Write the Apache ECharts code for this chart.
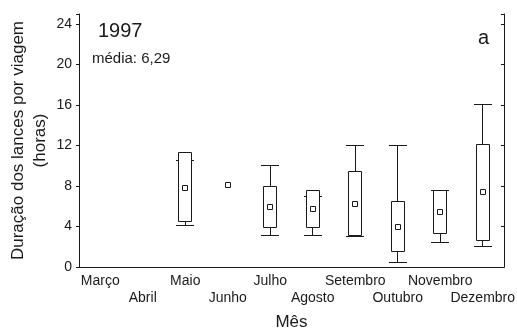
<!DOCTYPE html>
<html>
<head>
<meta charset="utf-8">
<script src="https://cdn.jsdelivr.net/npm/echarts@6/dist/echarts.min.js"></script>
<style>
html,body{margin:0;padding:0;background:#fff;}
#chart{width:517px;height:330px;}
</style>
</head>
<body>
<div id="chart"></div>
<script>
const categories = ['Março','Abril','Maio','Junho','Julho','Agosto','Setembro','Outubro','Novembro','Dezembro'];
const meanValues  = [null, null, 7.8,  8.07, 5.92, 5.75, 6.22, 3.97, 5.39, 7.37];
const boxLow      = [null, null, 4.53, null, 3.94, 3.94, 3.11, 1.52, 3.27, 2.65];
const boxHigh     = [null, null, 11.28,null, 7.97, 7.54, 9.39, 6.45, 7.54, 12.13];
const whiskerLow  = [null, null, 4.07, null, 3.08, 3.08, 3.04, 0.43, 2.41, 2.01];
const whiskerHigh = [null, null, 10.55,null, 10.02,7.0,  12.03,12.03,7.54, 16.04];
const yTicks = [0, 4, 8, 12, 16, 20, 24];

const FONT = 'Liberation Sans, Arial, sans-serif';
const INK = '#1a1a1a';

const rows = [];
categories.forEach((c, i) => {
  if (meanValues[i] == null) return;
  const f = v => (v == null ? '-' : v);
  rows.push([i, meanValues[i], f(boxLow[i]), f(boxHigh[i]), f(whiskerLow[i]), f(whiskerHigh[i])]);
});

function crisp(v) { return Math.round(v - 0.5) + 0.5; }

function renderItem(params, api) {
  const idx = api.value(0);
  const mean = api.value(1);
  const bLow = api.value(2), bHigh = api.value(3);
  const wLow = api.value(4), wHigh = api.value(5);
  const band = api.size([1, 0])[0];
  const cx = api.coord([idx, mean])[0];
  const children = [];
  const stroke = { stroke: INK, lineWidth: 1, fill: null };
  if (!isNaN(wLow) && !isNaN(wHigh)) {
    const yT = crisp(api.coord([idx, wHigh])[1]);
    const yB = crisp(api.coord([idx, wLow])[1]);
    const capHalf = band * 0.21;
    const x = crisp(cx);
    children.push({ type: 'line', shape: { x1: x, y1: yT, x2: x, y2: yB }, style: stroke });
    children.push({ type: 'line', shape: { x1: Math.round(cx - capHalf), y1: yT, x2: Math.round(cx + capHalf), y2: yT }, style: stroke });
    children.push({ type: 'line', shape: { x1: Math.round(cx - capHalf), y1: yB, x2: Math.round(cx + capHalf), y2: yB }, style: stroke });
  }
  if (!isNaN(bLow) && !isNaN(bHigh)) {
    const yT = crisp(api.coord([idx, bHigh])[1]);
    const yB = crisp(api.coord([idx, bLow])[1]);
    const half = band * 0.155;
    const x1 = crisp(cx - half), x2 = crisp(cx + half);
    children.push({ type: 'rect', shape: { x: x1, y: yT, width: x2 - x1, height: yB - yT }, style: { stroke: INK, lineWidth: 1, fill: '#fff' } });
  }
  const my = api.coord([idx, mean])[1];
  const s = 5;
  children.push({ type: 'rect', shape: { x: crisp(cx - s / 2), y: crisp(my - s / 2), width: s, height: s }, style: { stroke: INK, lineWidth: 1, fill: '#fff' } });
  return { type: 'group', children };
}

const chart = echarts.init(document.getElementById('chart'), null, { renderer: 'canvas' });
chart.setOption({
  animation: false,
  backgroundColor: '#fff',
  textStyle: { fontFamily: FONT },
  grid: { left: 79, right: 13, top: 14, bottom: 63, containLabel: false, outerBoundsMode: 'none' },
  xAxis: [
    {
      type: 'category', data: categories, position: 'bottom',
      name: 'Mês', nameLocation: 'middle', nameGap: 47, nameMoveOverlap: false,
      nameTextStyle: { fontSize: 17, color: INK, fontFamily: FONT },
      axisLine: { lineStyle: { color: INK, width: 1 } },
      axisTick: { inside: true, length: 3, lineStyle: { color: INK } },
      axisLabel: {
        interval: 0, margin: 6, fontSize: 14, lineHeight: 17, color: INK, fontFamily: FONT,
        formatter: (v, i) => (i % 2 ? '\n' + v : v)
      },
      splitLine: { show: false }
    },
    {
      type: 'category', data: categories, position: 'top',
      axisLine: { lineStyle: { color: INK, width: 1 } },
      axisTick: { inside: true, length: 3, lineStyle: { color: INK } },
      axisLabel: { show: false }, splitLine: { show: false }
    }
  ],
  yAxis: [
    {
      type: 'value', min: 0, max: 25, interval: 4, position: 'left',
      name: 'Duração dos lances por viagem\n(horas)', nameLocation: 'middle', nameRotate: 90, nameGap: 28,
      nameMoveOverlap: false,
      nameTextStyle: { fontSize: 17, lineHeight: 22, color: INK, fontFamily: FONT, align: 'center' },
      axisLine: { show: true, lineStyle: { color: INK, width: 1 } },
      axisTick: { show: true, inside: false, length: 3, lineStyle: { color: INK } },
      axisLabel: {
        margin: 7, fontSize: 14, color: INK, fontFamily: FONT,
        formatter: v => (yTicks.indexOf(v) >= 0 ? String(v) : '')
      },
      splitLine: { show: false }
    },
    {
      type: 'value', min: 0, max: 25, interval: 4, position: 'right',
      axisLine: { show: true, lineStyle: { color: INK, width: 1 } },
      axisTick: { show: true, inside: true, length: 3, lineStyle: { color: INK } },
      axisLabel: { show: false }, splitLine: { show: false }
    }
  ],
  graphic: [
    { type: 'text', left: 98, top: 21, style: { text: '1997', font: '20px ' + FONT, fill: INK } },
    { type: 'text', left: 92, top: 51, style: { text: 'média: 6,29', font: '15px ' + FONT, fill: INK } },
    { type: 'text', left: 478, top: 28, style: { text: 'a', font: '20px ' + FONT, fill: INK } }
  ],
  series: [
    {
      type: 'custom', renderItem: renderItem, data: rows,
      encode: { x: 0, y: 1 }, xAxisIndex: 0, yAxisIndex: 0, clip: false
    }
  ]
});
</script>
</body>
</html>
